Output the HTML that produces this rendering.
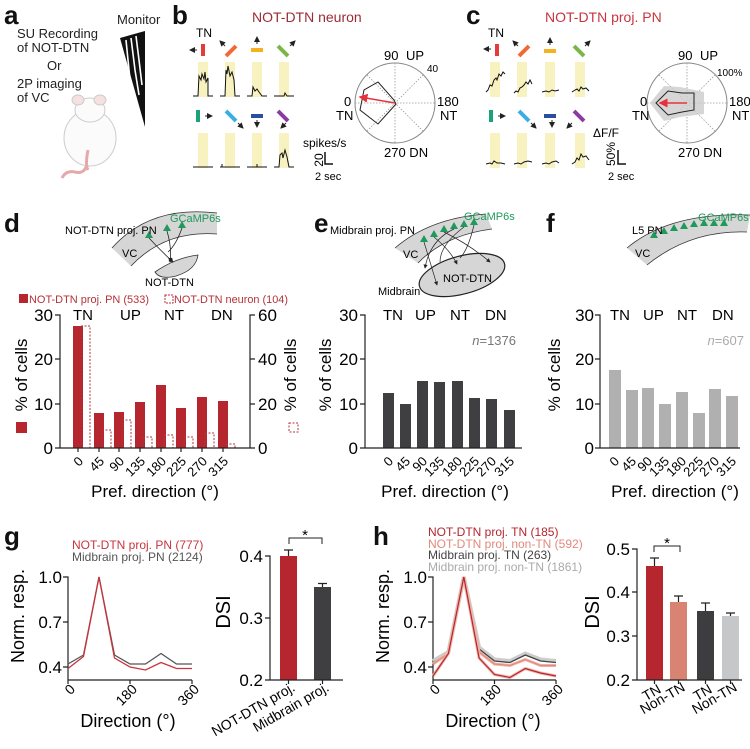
<!DOCTYPE html>
<html><head><meta charset="utf-8"><style>
html,body{margin:0;padding:0;background:#fff}
svg{display:block;font-family:"Liberation Sans",Arial,sans-serif}
</style></head><body>
<svg width="750" height="749" viewBox="0 0 750 749" xmlns="http://www.w3.org/2000/svg">
<defs>
<marker id="ah" markerWidth="6" markerHeight="6" refX="5" refY="3" orient="auto"><path d="M0,0 L6,3 L0,6 Z" fill="#222"/></marker>
<marker id="ahr" markerWidth="6" markerHeight="6" refX="5" refY="3" orient="auto"><path d="M0,0 L6,3 L0,6 Z" fill="#e8323a"/></marker>
</defs>
<g font-weight="bold" font-size="26" fill="#111">
<text x="4" y="24">a</text><text x="172" y="24">b</text><text x="466" y="24">c</text>
<text x="4" y="232">d</text><text x="314" y="232">e</text><text x="546" y="232">f</text>
<text x="4" y="545">g</text><text x="373" y="545">h</text>
</g>
<!-- panel a -->
<g font-size="13" fill="#222">
<text x="117" y="24">Monitor</text>
<text x="17" y="38">SU Recording</text><text x="17" y="52">of NOT-DTN</text>
<text x="47" y="70">Or</text>
<text x="17" y="88">2P imaging</text><text x="17" y="102">of VC</text>
</g>
<g>
<polygon points="120,38 145,31 145,127" fill="#111"/>
<path d="M126,40 L130,80 L135,100 M131,38 L135,70 L139,95 M136,36 L139,60 L142,85" stroke="#fff" stroke-width="1.6" fill="none"/>
</g>
<g>
<path d="M88,160 Q86,175 75,172 Q66,170 62,178" fill="none" stroke="#e6a9a9" stroke-width="3"/>
<ellipse cx="90" cy="138" rx="26" ry="28" fill="#fbfbfb" stroke="#ccc"/>
<ellipse cx="90" cy="110" rx="15" ry="12" fill="#fbfbfb" stroke="#ccc"/>
<ellipse cx="78" cy="100" rx="6" ry="5" fill="#f6e0e0" stroke="#ccc"/>
<ellipse cx="100" cy="100" rx="6" ry="5" fill="#f6e0e0" stroke="#ccc"/>
<path d="M88,150 Q85,165 88,170" fill="none" stroke="#e6a9a9" stroke-width="3"/>
</g>
<!-- panel b -->
<text x="252" y="22" font-size="14" fill="#9b2b35">NOT-DTN neuron</text>
<text x="196" y="37" font-size="12">TN</text>
<g>
<rect x="198" y="62" width="10" height="35" fill="#f7f2c0"/><rect x="225" y="62" width="10" height="35" fill="#f7f2c0"/>
<rect x="252" y="62" width="10" height="35" fill="#f7f2c0"/><rect x="279" y="62" width="10" height="35" fill="#f7f2c0"/>
<rect x="198" y="133" width="10" height="35" fill="#f7f2c0"/><rect x="225" y="133" width="10" height="35" fill="#f7f2c0"/>
<rect x="252" y="133" width="10" height="35" fill="#f7f2c0"/><rect x="279" y="133" width="10" height="35" fill="#f7f2c0"/>
<line x1="203" y1="44" x2="203" y2="56" stroke="#e53b3b" stroke-width="4"/>
<line x1="226" y1="56" x2="236" y2="46" stroke="#f06a37" stroke-width="4"/>
<line x1="251" y1="50" x2="263" y2="50" stroke="#f5b21e" stroke-width="4"/>
<line x1="278" y1="46" x2="288" y2="56" stroke="#7ab648" stroke-width="4"/>
<line x1="197" y1="50" x2="190" y2="50" stroke="#222" marker-end="url(#ah)"/>
<line x1="225" y1="46" x2="220" y2="41" stroke="#222" marker-end="url(#ah)"/>
<line x1="257" y1="44" x2="257" y2="37" stroke="#222" marker-end="url(#ah)"/>
<line x1="290" y1="46" x2="295" y2="41" stroke="#222" marker-end="url(#ah)"/>
<line x1="198" y1="110" x2="198" y2="122" stroke="#1aa37a" stroke-width="4"/>
<line x1="226" y1="111" x2="236" y2="121" stroke="#3aaee0" stroke-width="4"/>
<line x1="251" y1="116" x2="263" y2="116" stroke="#2a4fa0" stroke-width="4"/>
<line x1="278" y1="111" x2="288" y2="121" stroke="#8a3aa0" stroke-width="4"/>
<line x1="205" y1="116" x2="212" y2="116" stroke="#222" marker-end="url(#ah)"/>
<line x1="238" y1="123" x2="243" y2="128" stroke="#222" marker-end="url(#ah)"/>
<line x1="257" y1="120" x2="257" y2="127" stroke="#222" marker-end="url(#ah)"/>
<line x1="286" y1="123" x2="281" y2="128" stroke="#222" marker-end="url(#ah)"/>
</g>
<g fill="none" stroke="#111" stroke-width="1">
<path d="M193,96 L198,96 L199,76 L201,80 L202,74 L204,79 L205,72 L206,82 L208,78 L208,96 L213,96"/>
<path d="M220,96 L225,96 L226,70 L227,74 L228,66 L230,76 L232,72 L234,80 L235,96 L240,96"/>
<path d="M247,96 L252,96 L253,87 L255,91 L257,89 L259,92 L262,96 L267,96"/>
<path d="M274,96 L284,96 L285,93 L287,96 L294,96"/>
<path d="M193,167 L213,167"/><path d="M220,167 L222,167 L222,164 M222,167 L240,167"/>
<path d="M247,167 L257,167 L257,164 M257,167 L267,167"/>
<path d="M274,167 L279,167 L280,155 L282,153 L283,158 L285,150 L287,157 L289,167 L294,167"/>
</g>
<text x="303" y="147" font-size="12">spikes/s</text>
<text x="318" y="165" font-size="12" text-anchor="middle" transform="rotate(-90 318 160)">20</text>
<path d="M325,152 L325,164 L333,164" fill="none" stroke="#111" stroke-width="1.5"/>
<text x="315" y="180" font-size="11">2 sec</text>
<g>
<circle cx="395" cy="103" r="40" fill="none" stroke="#888"/>
<g stroke="#999" stroke-dasharray="1.5,1.5" stroke-width="0.8">
<line x1="355" y1="103" x2="435" y2="103"/><line x1="395" y1="63" x2="395" y2="143"/>
<line x1="367" y1="75" x2="423" y2="131"/><line x1="367" y1="131" x2="423" y2="75"/>
</g>
<polygon points="378,82 394,100 396,104 378,124 360,110 364,90" fill="none" stroke="#222"/>
<line x1="395" y1="103" x2="360" y2="97" stroke="#e8323a" stroke-width="1.5" marker-end="url(#ahr)"/>
<g font-size="13">
<text x="384" y="60">90</text><text x="406" y="60">UP</text>
<text x="427" y="72" font-size="10">40</text>
<text x="437" y="106">180</text><text x="440" y="120">NT</text>
<text x="344" y="106">0</text><text x="336" y="120">TN</text>
<text x="384" y="157">270 DN</text>
</g>
</g>
<!-- panel c -->
<text x="545" y="22" font-size="14" fill="#c8353f">NOT-DTN proj. PN</text>
<text x="488" y="37" font-size="12">TN</text>
<g>
<rect x="490" y="62" width="10" height="35" fill="#f7f2c0"/><rect x="517" y="62" width="10" height="35" fill="#f7f2c0"/>
<rect x="545" y="62" width="10" height="35" fill="#f7f2c0"/><rect x="575" y="62" width="10" height="35" fill="#f7f2c0"/>
<rect x="490" y="133" width="10" height="35" fill="#f7f2c0"/><rect x="517" y="133" width="10" height="35" fill="#f7f2c0"/>
<rect x="545" y="133" width="10" height="35" fill="#f7f2c0"/><rect x="575" y="133" width="10" height="35" fill="#f7f2c0"/>
<line x1="497" y1="44" x2="497" y2="56" stroke="#e53b3b" stroke-width="4"/>
<line x1="519" y1="56" x2="529" y2="46" stroke="#f06a37" stroke-width="4"/>
<line x1="544" y1="51" x2="556" y2="51" stroke="#f5b21e" stroke-width="4"/>
<line x1="574" y1="46" x2="584" y2="56" stroke="#7ab648" stroke-width="4"/>
<line x1="491" y1="49" x2="484" y2="49" stroke="#222" marker-end="url(#ah)"/>
<line x1="518" y1="46" x2="513" y2="41" stroke="#222" marker-end="url(#ah)"/>
<line x1="550" y1="45" x2="550" y2="38" stroke="#222" marker-end="url(#ah)"/>
<line x1="585" y1="46" x2="590" y2="41" stroke="#222" marker-end="url(#ah)"/>
<line x1="491" y1="110" x2="491" y2="122" stroke="#1aa37a" stroke-width="4"/>
<line x1="519" y1="111" x2="529" y2="121" stroke="#3aaee0" stroke-width="4"/>
<line x1="544" y1="116" x2="556" y2="116" stroke="#2a4fa0" stroke-width="4"/>
<line x1="574" y1="111" x2="584" y2="121" stroke="#8a3aa0" stroke-width="4"/>
<line x1="498" y1="116" x2="505" y2="116" stroke="#222" marker-end="url(#ah)"/>
<line x1="531" y1="123" x2="536" y2="128" stroke="#222" marker-end="url(#ah)"/>
<line x1="552" y1="120" x2="552" y2="127" stroke="#222" marker-end="url(#ah)"/>
<line x1="572" y1="123" x2="567" y2="128" stroke="#222" marker-end="url(#ah)"/>
</g>
<g fill="none" stroke="#111" stroke-width="1">
<path d="M486,92 L488,90 L490,85 L492,86 L494,80 L496,78 L497,80 L499,74 L501,76 L503,72 L505,74"/>
<path d="M514,93 L516,91 L518,92 L520,88 L522,87 L524,85 L526,82 L528,84 L530,80 L532,84"/>
<path d="M542,92 L546,91 L549,92 L552,90 L555,91 L559,90"/>
<path d="M572,92 L575,90 L577,89 L579,91 L581,87 L583,89 L586,88 L589,91"/>
<path d="M486,164 L490,163 L492,164 L494,161 L497,163 L501,163 L505,164"/>
<path d="M514,164 L518,163 L521,164 L524,162 L528,161 L532,162"/>
<path d="M542,164 L546,163 L549,164 L552,162 L556,161 L559,163"/>
<path d="M572,164 L575,162 L577,158 L579,160 L581,154 L583,157 L586,156 L589,160"/>
</g>
<text x="593" y="137" font-size="12">ΔF/F</text>
<text x="611" y="158" font-size="12" text-anchor="middle" transform="rotate(-90 611 154)">50%</text>
<path d="M618,150 L618,164 L626,164" fill="none" stroke="#111" stroke-width="1.5"/>
<text x="608" y="180" font-size="11">2 sec</text>
<g>
<circle cx="687" cy="103" r="40" fill="none" stroke="#888"/>
<g stroke="#999" stroke-dasharray="1.5,1.5" stroke-width="0.8">
<line x1="647" y1="103" x2="727" y2="103"/><line x1="687" y1="63" x2="687" y2="143"/>
<line x1="659" y1="75" x2="715" y2="131"/><line x1="659" y1="131" x2="715" y2="75"/>
</g>
<polygon points="650,103 664,86 680,87 704,92 704,114 680,117 664,121" fill="#ccc" opacity="0.8"/>
<polygon points="656,103 668,91 682,93 694,93 694,110 682,112 668,115" fill="none" stroke="#222"/>
<line x1="687" y1="103" x2="660" y2="103" stroke="#e8323a" stroke-width="1.5" marker-end="url(#ahr)"/>
<g font-size="13">
<text x="678" y="60">90</text><text x="700" y="60">UP</text>
<text x="717" y="76" font-size="10">100%</text>
<text x="729" y="106">180</text><text x="732" y="120">NT</text>
<text x="640" y="106">0</text><text x="632" y="120">TN</text>
<text x="678" y="157">270 DN</text>
</g>
</g>
<!-- d schematic -->
<path d="M112,248 Q150,205 217,213 L217,234 Q165,230 131,266 Z" fill="#d6d6d6"/>
<path d="M112,248 Q150,205 217,213 M131,266 Q165,230 217,234" fill="none" stroke="#333" stroke-width="0.8"/>
<path d="M155,272 Q175,258 198,255 Q196,270 176,276 Q160,280 155,272 Z" fill="#d6d6d6" stroke="#333" stroke-width="0.8"/>
<g fill="#1f9a5a"><polygon points="145,238 149,231 153,238"/><polygon points="163,231 167,224 171,231"/><polygon points="178,228 182,221 186,228"/></g>
<g stroke="#222" stroke-width="0.8" fill="none">
<path d="M149,238 Q160,250 173,262" marker-end="url(#ah)"/><path d="M167,231 Q172,248 170,262" marker-end="url(#ah)"/><path d="M182,228 Q176,245 168,252"/>
</g>
<text x="65" y="234" font-size="11">NOT-DTN proj. PN</text>
<text x="170" y="222" font-size="11" fill="#1f9a5a">GCaMP6s</text>
<text x="122" y="257" font-size="11">VC</text>
<text x="145" y="286" font-size="11">NOT-DTN</text>
<!-- e schematic -->
<path d="M395,248 Q430,218 486,214 L492,229 Q445,235 418,263 Z" fill="#d6d6d6"/>
<path d="M395,248 Q430,218 486,214 M418,263 Q445,235 492,229" fill="none" stroke="#333" stroke-width="0.8"/>
<ellipse cx="462" cy="275" rx="44" ry="19" transform="rotate(-15 462 275)" fill="#d6d6d6" stroke="#222" stroke-width="1.2"/>
<g fill="#1f9a5a"><polygon points="420,242 424,235 428,242"/><polygon points="430,237 434,230 438,237"/><polygon points="440,232 444,225 448,232"/><polygon points="450,229 454,222 458,229"/><polygon points="460,227 464,220 468,227"/><polygon points="470,225 474,218 478,225"/></g>
<g stroke="#222" stroke-width="0.7" fill="none">
<path d="M424,242 L437,285" marker-end="url(#ah)"/><path d="M434,237 Q450,250 457,264" marker-end="url(#ah)"/><path d="M444,232 Q470,245 490,262" marker-end="url(#ah)"/>
<path d="M454,229 Q430,240 425,268" marker-end="url(#ah)"/><path d="M464,227 Q440,245 440,262"/><path d="M474,225 Q468,250 460,258"/>
</g>
<text x="330" y="234" font-size="11">Midbrain proj. PN</text>
<text x="464" y="220" font-size="11" fill="#1f9a5a">GCaMP6s</text>
<text x="403" y="258" font-size="11">VC</text>
<text x="443" y="282" font-size="11">NOT-DTN</text>
<text x="378" y="295" font-size="11">Midbrain</text>
<!-- f schematic -->
<path d="M627,248 Q670,212 750,215 L747,232 Q690,230 647,265 Z" fill="#d6d6d6"/>
<path d="M627,248 Q670,212 750,215 M647,265 Q690,230 747,232" fill="none" stroke="#333" stroke-width="0.8"/>
<g fill="#1f9a5a"><polygon points="650,238 654,231 658,238"/><polygon points="660,234 664,227 668,234"/><polygon points="670,231 674,224 678,231"/><polygon points="680,229 684,222 688,229"/><polygon points="690,227 694,220 698,227"/><polygon points="700,226 704,219 708,226"/><polygon points="710,226 714,219 718,226"/><polygon points="720,226 724,219 728,226"/></g>
<text x="632" y="234" font-size="11">L5 PN</text>
<text x="698" y="221" font-size="11" fill="#1f9a5a">GCaMP6s</text>
<text x="635" y="257" font-size="11">VC</text>
<!-- d chart -->
<rect x="19" y="294" width="9" height="9" fill="#b5262f"/>
<text x="29" y="303" font-size="11" fill="#b5323a" textLength="120" lengthAdjust="spacingAndGlyphs">NOT-DTN proj. PN (533)</text>
<rect x="165" y="295" width="8" height="8" fill="none" stroke="#b5323a" stroke-dasharray="2,1"/>
<text x="174" y="303" font-size="11" fill="#b5323a" textLength="114" lengthAdjust="spacingAndGlyphs">NOT-DTN neuron (104)</text>
<g font-size="15">
<text x="73" y="320">TN</text><text x="120" y="320">UP</text><text x="164" y="320">NT</text><text x="211" y="320">DN</text>
<text x="383" y="320">TN</text><text x="415" y="320">UP</text><text x="450" y="320">NT</text><text x="485" y="320">DN</text>
<text x="610" y="320">TN</text><text x="643" y="320">UP</text><text x="677" y="320">NT</text><text x="712" y="320">DN</text>
</g>
<g fill="#b5262f">
<rect x="73" y="326" width="10" height="122"/><rect x="94" y="413" width="10" height="35"/>
<rect x="114" y="412" width="10" height="36"/><rect x="135" y="402" width="10" height="46"/>
<rect x="156" y="385" width="10" height="63"/><rect x="176" y="408" width="10" height="40"/>
<rect x="197" y="397" width="10" height="51"/><rect x="218" y="401" width="10" height="47"/>
</g>
<g fill="none" stroke="#b5323a" stroke-dasharray="2,1.5" stroke-width="1">
<rect x="81" y="326" width="9" height="122"/><rect x="102" y="430" width="9" height="18"/>
<rect x="122" y="420" width="9" height="28"/><rect x="143" y="437" width="9" height="11"/>
<rect x="164" y="435" width="9" height="13"/><rect x="184" y="437" width="9" height="11"/>
<rect x="205" y="433" width="9" height="15"/><rect x="226" y="444" width="9" height="4"/>
</g>
<g stroke="#222" stroke-width="1.2" fill="none">
<path d="M55,315 L60,315 L60,448 L250,448 L250,315 L255,315 M55,359 L60,359 M55,404 L60,404 M55,448 L60,448 M250,359 L255,359 M250,404 L255,404 M250,448 L255,448"/>
<path d="M78,448 v4 M99,448 v4 M119,448 v4 M140,448 v4 M161,448 v4 M181,448 v4 M202,448 v4 M223,448 v4"/>
</g>
<g font-size="17" text-anchor="end">
<text x="53" y="321">30</text><text x="53" y="365">20</text><text x="53" y="410">10</text><text x="53" y="454">0</text>
</g>
<g font-size="17"><text x="258" y="321">60</text><text x="258" y="365">40</text><text x="258" y="410">20</text><text x="258" y="454">0</text></g>
<text x="33" y="381" font-size="17" text-anchor="middle" transform="rotate(-90 27 381)">% of cells</text>
<rect x="16" y="422" width="11" height="11" fill="#b5262f"/>
<text x="302" y="381" font-size="17" text-anchor="middle" transform="rotate(-90 296 381)">% of cells</text>
<rect x="289" y="423" width="9" height="9" fill="none" stroke="#b5323a" stroke-dasharray="2,1.5"/>
<g font-size="13" text-anchor="end">
<text transform="translate(84,462) rotate(-45)">0</text><text transform="translate(105,462) rotate(-45)">45</text>
<text transform="translate(125,462) rotate(-45)">90</text><text transform="translate(146,462) rotate(-45)">135</text>
<text transform="translate(167,462) rotate(-45)">180</text><text transform="translate(187,462) rotate(-45)">225</text>
<text transform="translate(208,462) rotate(-45)">270</text><text transform="translate(229,462) rotate(-45)">315</text>
</g>
<text x="155" y="497" font-size="17" text-anchor="middle">Pref. direction (°)</text>
<!-- e chart -->
<g fill="#3f3f41">
<rect x="383" y="393" width="11" height="55"/><rect x="400" y="404" width="11" height="44"/>
<rect x="417" y="381" width="11" height="67"/><rect x="434" y="382" width="11" height="66"/>
<rect x="452" y="381" width="11" height="67"/><rect x="469" y="398" width="11" height="50"/>
<rect x="486" y="399" width="11" height="49"/><rect x="504" y="410" width="11" height="38"/>
</g>
<path d="M360,315 L365,315 L365,448 L522,448 M360,359 L365,359 M360,404 L365,404 M360,448 L365,448" stroke="#222" stroke-width="1.2" fill="none"/>
<g font-size="17" text-anchor="end"><text x="358" y="321">30</text><text x="358" y="365">20</text><text x="358" y="410">10</text><text x="358" y="454">0</text></g>
<text x="337" y="381" font-size="17" text-anchor="middle" transform="rotate(-90 331 381)">% of cells</text>
<text x="516" y="345" font-size="13" text-anchor="end" fill="#777"><tspan font-style="italic">n</tspan>=1376</text>
<g font-size="13" text-anchor="end">
<text transform="translate(394,462) rotate(-45)">0</text><text transform="translate(411,462) rotate(-45)">45</text>
<text transform="translate(428,462) rotate(-45)">90</text><text transform="translate(445,462) rotate(-45)">135</text>
<text transform="translate(463,462) rotate(-45)">180</text><text transform="translate(480,462) rotate(-45)">225</text>
<text transform="translate(497,462) rotate(-45)">270</text><text transform="translate(515,462) rotate(-45)">315</text>
</g>
<text x="445" y="497" font-size="17" text-anchor="middle">Pref. direction (°)</text>
<!-- f chart -->
<g fill="#b0b0b0">
<rect x="609" y="370" width="12" height="78"/><rect x="626" y="390" width="12" height="58"/>
<rect x="642" y="388" width="12" height="60"/><rect x="659" y="404" width="12" height="44"/>
<rect x="676" y="392" width="12" height="56"/><rect x="693" y="413" width="12" height="35"/>
<rect x="709" y="389" width="12" height="59"/><rect x="726" y="396" width="12" height="52"/>
</g>
<path d="M595,315 L600,315 L600,448 L740,448 M595,359 L600,359 M595,404 L600,404 M595,448 L600,448" stroke="#222" stroke-width="1.2" fill="none"/>
<g font-size="17" text-anchor="end"><text x="594" y="321">30</text><text x="594" y="365">20</text><text x="594" y="410">10</text><text x="594" y="454">0</text></g>
<text x="566" y="381" font-size="17" text-anchor="middle" transform="rotate(-90 560 381)">% of cells</text>
<text x="744" y="345" font-size="13" text-anchor="end" fill="#aaa"><tspan font-style="italic">n</tspan>=607</text>
<g font-size="13" text-anchor="end">
<text transform="translate(620,462) rotate(-45)">0</text><text transform="translate(637,462) rotate(-45)">45</text>
<text transform="translate(653,462) rotate(-45)">90</text><text transform="translate(670,462) rotate(-45)">135</text>
<text transform="translate(687,462) rotate(-45)">180</text><text transform="translate(704,462) rotate(-45)">225</text>
<text transform="translate(720,462) rotate(-45)">270</text><text transform="translate(737,462) rotate(-45)">315</text>
</g>
<text x="675" y="497" font-size="17" text-anchor="middle">Pref. direction (°)</text>
<!-- g line -->
<text x="72" y="549" font-size="12" fill="#c8353f">NOT-DTN proj. PN (777)</text>
<text x="72" y="561" font-size="12" fill="#555">Midbrain proj. PN (2124)</text>
<path d="M63,577 L68,577 L68,680 L192,680 M63,622 L68,622 M63,667 L68,667 M68,680 v4 M130,680 v4 M192,680 v4" stroke="#222" stroke-width="1.2" fill="none"/>
<g font-size="17" text-anchor="end"><text x="62" y="583">1.0</text><text x="62" y="628">0.7</text><text x="62" y="673">0.4</text></g>
<text x="30" y="622" font-size="18" text-anchor="middle" transform="rotate(-90 24 622)">Norm. resp.</text>
<polyline points="68,664 83.5,655 99,577 114.5,655 130,664 145.5,664 161,653.5 176.5,664 192,664" fill="none" stroke="#555" stroke-width="1.3"/>
<polyline points="68,668.5 83.5,656.5 99,577 114.5,658 130,667 145.5,670 161,662.5 176.5,668.5 192,668.5" fill="none" stroke="#c8353f" stroke-width="1.3"/>
<g font-size="14" text-anchor="end">
<text transform="translate(76,690) rotate(-45)">0</text><text transform="translate(138,690) rotate(-45)">180</text><text transform="translate(200,690) rotate(-45)">360</text>
</g>
<text x="128" y="727" font-size="18" text-anchor="middle">Direction (°)</text>
<!-- g DSI -->
<rect x="280" y="556" width="17" height="124" fill="#b5262f"/>
<rect x="314" y="587" width="17" height="93" fill="#3f3f41"/>
<path d="M288.5,556 V550 M284,550 H293 M322.5,587 V583.5 M318,583.5 H327" stroke="#222" stroke-width="1.2"/>
<path d="M265,556 L270,556 L270,680 L343,680 M265,618 L270,618 M265,680 L270,680 M288.5,680 v4 M322.5,680 v4" stroke="#222" stroke-width="1.2" fill="none"/>
<g font-size="17" text-anchor="end"><text x="263" y="562">0.4</text><text x="263" y="624">0.3</text><text x="263" y="686">0.2</text></g>
<text x="236" y="618" font-size="20" text-anchor="middle" transform="rotate(-90 230 618)">DSI</text>
<path d="M289,544 V538 H322 V544" fill="none" stroke="#222" stroke-width="1"/>
<text x="305" y="540" font-size="15" text-anchor="middle">*</text>
<g font-size="14" text-anchor="end">
<text transform="translate(296,690) rotate(-30)">NOT-DTN proj.</text><text transform="translate(330,690) rotate(-30)">Midbrain proj.</text>
</g>
<!-- h line -->
<text x="428" y="536" font-size="12" fill="#b5262f">NOT-DTN proj. TN (185)</text>
<text x="428" y="548" font-size="12" fill="#e08a7c">NOT-DTN proj. non-TN (592)</text>
<text x="428" y="559" font-size="12" fill="#444">Midbrain proj. TN (263)</text>
<text x="428" y="571" font-size="12" fill="#aaa">Midbrain proj. non-TN (1861)</text>
<path d="M428,577 L433,577 L433,680 L556,680 M428,622 L433,622 M428,667 L433,667 M433,680 v4 M494.5,680 v4 M556,680 v4" stroke="#222" stroke-width="1.2" fill="none"/>
<g font-size="17" text-anchor="end"><text x="427" y="583">1.0</text><text x="427" y="628">0.7</text><text x="427" y="673">0.4</text></g>
<text x="395" y="622" font-size="18" text-anchor="middle" transform="rotate(-90 389 622)">Norm. resp.</text>
<polyline points="433,661 448.4,652 463.8,577 479.1,647.5 494.5,659.5 509.9,661 525.3,653.5 540.6,659.5 556,661" fill="none" stroke="#ccc" stroke-width="4"/>
<polyline points="433,662.5 448.4,653.5 463.8,577 479.1,649 494.5,661 509.9,662.5 525.3,655 540.6,661 556,662.5" fill="none" stroke="#444" stroke-width="1.3"/>
<polyline points="433,664 448.4,653.5 463.8,577 479.1,652 494.5,664 509.9,665.5 525.3,659.5 540.6,665.5 556,665.5" fill="none" stroke="#f0b5aa" stroke-width="3"/>
<polyline points="433,664 448.4,653.5 463.8,577 479.1,652 494.5,664 509.9,665.5 525.3,659.5 540.6,665.5 556,665.5" fill="none" stroke="#e08a7c" stroke-width="1.2"/>
<polyline points="433,676 448.4,653.5 463.8,577 479.1,658 494.5,674.5 509.9,677.5 525.3,668.5 540.6,673 556,676" fill="none" stroke="#f0b5aa" stroke-width="3"/>
<polyline points="433,676 448.4,653.5 463.8,577 479.1,658 494.5,674.5 509.9,677.5 525.3,668.5 540.6,673 556,676" fill="none" stroke="#b5262f" stroke-width="1.2"/>
<g font-size="14" text-anchor="end">
<text transform="translate(441,690) rotate(-45)">0</text><text transform="translate(502,690) rotate(-45)">180</text><text transform="translate(564,690) rotate(-45)">360</text>
</g>
<text x="493" y="727" font-size="18" text-anchor="middle">Direction (°)</text>
<!-- h DSI -->
<rect x="646" y="566" width="17" height="114" fill="#b5262f"/>
<rect x="670" y="602" width="17" height="78" fill="#d98373"/>
<rect x="697" y="611" width="17" height="69" fill="#3d3d3f"/>
<rect x="722" y="616" width="17" height="64" fill="#c5c7c9"/>
<path d="M654.5,566 V558 M650,558 H659 M678.5,602 V596 M674,596 H683 M705.5,611 V603 M701,603 H710 M730.5,616 V613 M726,613 H735" stroke="#222" stroke-width="1.2"/>
<path d="M632,549 L637,549 L637,680 L742,680 M632,592 L637,592 M632,636 L637,636 M632,680 L637,680 M654.5,680 v4 M678.5,680 v4 M705.5,680 v4 M730.5,680 v4" stroke="#222" stroke-width="1.2" fill="none"/>
<g font-size="17" text-anchor="end"><text x="630" y="555">0.5</text><text x="630" y="598">0.4</text><text x="630" y="642">0.3</text><text x="630" y="686">0.2</text></g>
<text x="605" y="618" font-size="20" text-anchor="middle" transform="rotate(-90 599 618)">DSI</text>
<path d="M654,552 V546 H680 V552" fill="none" stroke="#222" stroke-width="1"/>
<text x="667" y="548" font-size="15" text-anchor="middle">*</text>
<g font-size="14" text-anchor="end">
<text transform="translate(662,692) rotate(-30)">TN</text><text transform="translate(686,690) rotate(-30)">Non-TN</text>
<text transform="translate(713,692) rotate(-30)">TN</text><text transform="translate(738,690) rotate(-30)">Non-TN</text>
</g>
</svg>
</body></html>
